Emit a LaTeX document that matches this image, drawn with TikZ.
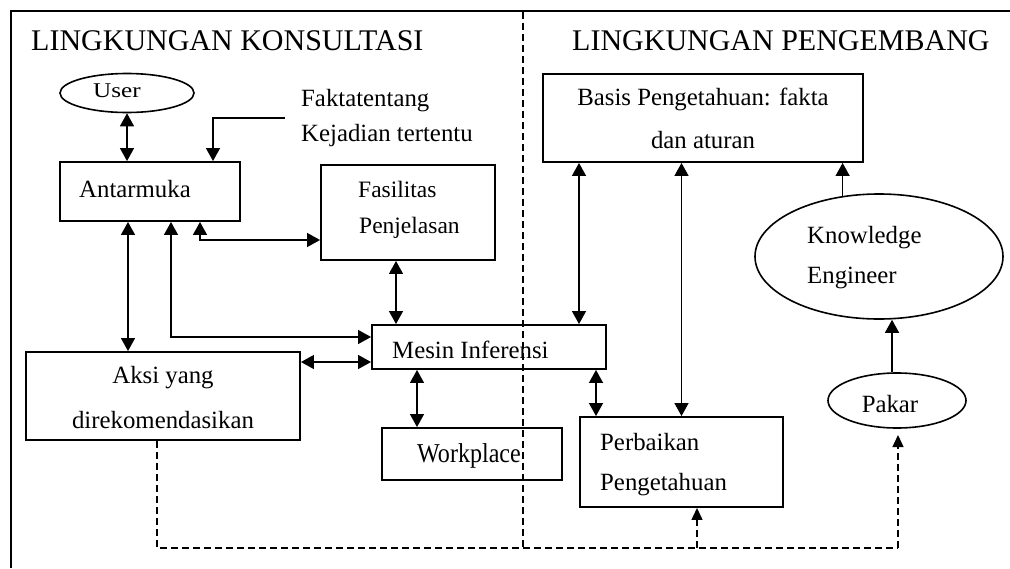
\documentclass[tikz,border=0pt]{standalone}
\usepackage{fontspec}
\usepackage{graphicx}
\setmainfont{Liberation Serif}
\usetikzlibrary{arrows.meta,shapes.geometric}
\begin{document}
\begin{tikzpicture}[x=1pt,y=-1pt,
  box/.style={draw, line width=1.9pt, rectangle, inner sep=0pt},
  oval/.style={draw, line width=1.6pt, ellipse, inner sep=0pt},
  txt/.style={inner sep=0pt, font=\fontsize{24.8}{28}\selectfont},
  stxt/.style={inner sep=0pt, font=\fontsize{23.5}{26}\selectfont},
  ttl/.style={inner sep=0pt, font=\fontsize{30}{36}\selectfont, anchor=base west},
  arr/.style={line width=1.3pt, -{Triangle[length=13pt,width=14pt]}},
  biarr/.style={line width=1.3pt, {Triangle[length=13pt,width=14pt]}-{Triangle[length=13pt,width=14pt]}},
  dsh/.style={line width=1.3pt, dash pattern=on 7pt off 4pt},
  dsharr/.style={dsh, -{Triangle[length=12pt,width=11pt]}},
]
\useasboundingbox (0,0) rectangle (1010,568);
% frame and divider
\draw[line width=1.9pt] (11,568) -- (11,11) -- (1010,11);
\draw[dsh] (523,12) -- (523,548);
% titles
\node[ttl] (t1) at (31,50) {LINGKUNGAN KONSULTASI};
\node[ttl] (t2) at (572,50) {LINGKUNGAN PENGEMBANG};
% shapes
\node[oval, minimum width=134pt, minimum height=39pt] (user) at (127,93) {};
\node[box, minimum width=180pt, minimum height=59pt] (antar) at (150,191.5) {};
\node[box, minimum width=174pt, minimum height=95pt] (fasil) at (408,212.5) {};
\node[box, minimum width=234pt, minimum height=44pt] (mesin) at (489,347) {};
\node[box, minimum width=274pt, minimum height=88pt] (aksi) at (163,396) {};
\node[box, minimum width=180pt, minimum height=52pt] (work) at (472,454) {};
\node[box, minimum width=203pt, minimum height=90pt] (perb) at (681.5,462) {};
\node[box, minimum width=320pt, minimum height=88pt] (basis) at (703,118) {};
\node[oval, minimum width=248pt, minimum height=125pt] (ke) at (879,256.5) {};
\node[oval, minimum width=138pt, minimum height=55pt] (pakar) at (897,400.5) {};
% texts
\node[inner sep=0pt, font=\fontsize{21}{24}\selectfont, anchor=base] (tuser) at (117,97) {\scalebox{1.2}[1]{User}};
\node[txt, anchor=base west] (tf1) at (301,106) {Faktatentang};
\node[txt, anchor=base west] (tf2) at (301,141) {Kejadian tertentu};
\node[txt, anchor=base west] (tantar) at (79,197) {Antarmuka};
\node[stxt, anchor=base west] (tfas1) at (358,197) {Fasilitas};
\node[stxt, anchor=base west] (tfas2) at (359,233) {Penjelasan};
\node[txt, anchor=base] (tbas1) at (703,105) {Basis Pengetahuan: fakta};
\node[txt, anchor=base] (tbas2) at (703,148) {dan aturan};
\node[txt, anchor=base west] (tmes) at (392,358) {Mesin Inferensi};
\node[txt, anchor=base] (taks1) at (163,383) {Aksi yang};
\node[txt, anchor=base] (taks2) at (163,428) {direkomendasikan};
\node[txt, anchor=base west] (twork) at (417,462) {\scalebox{0.97}[1.1]{Workplace}};
\node[txt, anchor=base west] (tper1) at (600,450) {Perbaikan};
\node[txt, anchor=base west] (tper2) at (600,490) {Pengetahuan};
\node[txt, anchor=base west] (tke1) at (807,243) {Knowledge};
\node[txt, anchor=base west] (tke2) at (807,283) {Engineer};
\node[txt, anchor=base] (tpak) at (890,412) {Pakar};
% connectors
\coordinate (fk) at (285,118);
\draw[biarr] (user.south) -- (user.south |- antar.north);
\draw[arr] (fk) -| ([xshift=63pt]antar.north);
\draw[biarr] ([xshift=50pt]antar.south) |- ([yshift=-27.5pt]fasil.west);
\draw[biarr] ([xshift=-22pt]antar.south) -- ([xshift=-22pt]antar.south |- aksi.north);
\draw[biarr] ([xshift=21pt]antar.south) |- ([yshift=10pt]mesin.west);
\draw[biarr] ([xshift=-12pt]fasil.south) -- ([xshift=-12pt]fasil.south |- mesin.north);
\draw[biarr] ([yshift=-15pt]mesin.west) -- ([yshift=-15pt]mesin.west -| aksi.east);
\draw[biarr] ([xshift=-72pt]mesin.south) -- ([xshift=-72pt]mesin.south |- work.north);
\draw[biarr] ([xshift=107pt]mesin.south) -- ([xshift=107pt]mesin.south |- perb.north);
\draw[biarr] ([xshift=-124pt]basis.south) -- ([xshift=-124pt]basis.south |- mesin.north);
\draw[biarr] (perb.north |- basis.south) -- (perb.north);
\draw[arr] (ke.121.8) -- (ke.121.8 |- basis.south);
\draw[arr] (pakar.100) -- (pakar.100 |- ke.south);
% dashed feedback
\coordinate (dc) at (898,548);
\draw[dsh] ([xshift=-6pt]aksi.south) |- (dc);
\draw[dsharr] (dc) -- (898,435);
\draw[dsharr] ([xshift=15.5pt]perb.south |- dc) -- ([xshift=15.5pt]perb.south);
\end{tikzpicture}
\end{document}
